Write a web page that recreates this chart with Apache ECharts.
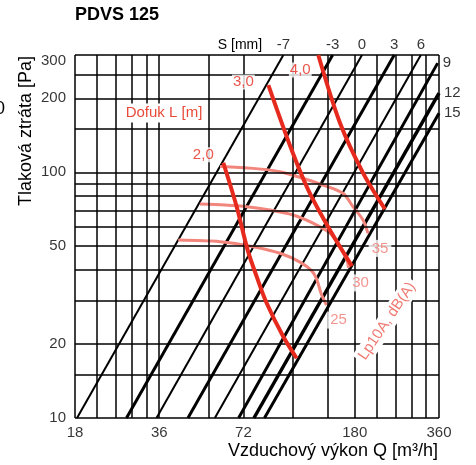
<!DOCTYPE html>
<html><head><meta charset="utf-8">
<script src="https://cdn.jsdelivr.net/npm/echarts@6/dist/echarts.min.js"></script>
<style>html,body{margin:0;padding:0;background:#fff}#c{width:476px;height:465px}</style>
</head><body><div id="c"></div>
<script>
// ---- data ----
const title = 'PDVS 125';
const xName = 'Vzduchový výkon Q [m³/h]';
const yName = 'Tlaková ztráta [Pa]';
const xTicks = [18, 36, 72, 180, 360];
const yTicks = [10, 20, 50, 100, 200, 300];
const xGrid = [18, 21.6, 25.2, 28.8, 32.4, 36, 54, 72, 108, 144, 180, 216, 252, 288, 324, 360];
const yGrid = [10, 15, 20, 30, 40, 50, 60, 70, 80, 90, 100, 150, 200, 250, 300];

// damper setting lines S [mm]: flow at 10 Pa, end point
const sLabels = ['-7', '-3', '0', '3', '6', '9', '12', '15'];
const sStartQ = [18.3, 27.5, 35.2, 45.6, 56.9, 69.2, 78.5, 85.6];
const sEndQ   = [100, 150, 191, 249, 310, 356, 360, 360];
const sEndP   = [300, 300, 300, 300, 300, 278, 210, 174];

// throw (Dofuk L [m]) curves
const throwLabels = ['2,0', '3,0', '4,0'];
const throw20 = [[61.0,109.3],[68.1,72.4],[74.5,48.3],[80.3,37.6],[87.2,29.3],[100,21.4],[111.6,17.5]];
const throw30 = [[88.4,226.3],[107.1,123.1],[122.8,84.6],[146.7,58.2],[175.9,41.5]];
const throw40 = [[133.3,300],[159.4,158.6],[193,99.0],[230.8,70.8]];

// noise Lp10A dB(A) curves
const noiseLabels = ['35', '30', '25'];
const noise35 = [[59.4,105.5],[77.9,103.7],[97.3,100.5],[117.5,94.5],[138.6,88.7],[163.4,82.1],[177.4,72.4],[192.6,63.9],[200.7,56.4]];
const noise30 = [[50.3,74.2],[61.9,73.5],[74.1,72.4],[89.6,70.2],[108.3,67.0],[127.6,62.1],[146.7,56.6],[159.4,49.8],[168.8,43.9],[170.9,40.8]];
const noise25 = [[42.1,53.0],[59.4,52.2],[78.1,49.8],[97.3,46.8],[114.7,43.1],[126.6,39.6],[131.9,36.4],[136.3,32.2],[142.6,28.8]];

// ---- chart ----
const FONT = 'Liberation Sans, Arial, sans-serif';
const RED = '#e62b1e', PINK = '#f2857c', PINKTXT = '#f07a72';
const chart = echarts.init(document.getElementById('c'));

const hidden = {axisLine:{show:false}, axisTick:{show:false}, axisLabel:{show:false}, splitLine:{show:false}};

const series = [];
// grid
series.push({
  type:'line', data:[[18,10]], symbol:'none', lineStyle:{opacity:0}, silent:true, z:1,
  markLine:{
    silent:true, symbol:['none','none'], animation:false,
    label:{show:false},
    lineStyle:{color:'#000', width:1.5, type:'solid'},
    data: xGrid.map(v=>({xAxis:v})).concat(yGrid.map(v=>({yAxis:v})))
  }
});
// S lines
const sWidths = [2, 3, 2, 3, 2, 3, 3.5, 3];
sLabels.forEach((l,i)=>{
  series.push({type:'line', name:'S'+l, data:[[sStartQ[i],10],[sEndQ[i],sEndP[i]]], symbol:'none', z:3,
    lineStyle:{color:'#000', width:sWidths[i]}, clip:false});
});
// noise curves
[noise35, noise30, noise25].forEach((d,i)=>{
  series.push({type:'line', data:d, symbol:'none', smooth:0.3, z:4, lineStyle:{color:PINK, width:3}});
});
// throw curves
[throw20, throw30, throw40].forEach((d,i)=>{
  series.push({type:'line', data:d, symbol:'none', smooth:0.3, z:5, lineStyle:{color:RED, width:4}});
});

const txt = {fontFamily:FONT, color:'#000', fontSize:15};
// axis tick labels
series.push({type:'scatter', symbolSize:0, clip:false, silent:true, z:6,
  data: yTicks.map(v=>({value:[18,v], label: v===300 ? {offset:[0,6]} : {}})),
  label:Object.assign({show:true, position:'left', distance:9, formatter:p=>String(p.value[1])}, txt)});
series.push({type:'scatter', symbolSize:0, clip:false, silent:true, z:6,
  data: xTicks.map(v=>[v,10]),
  label:Object.assign({show:true, position:'bottom', distance:7, formatter:p=>String(p.value[0])}, txt)});
// S labels
series.push({type:'scatter', symbolSize:0, clip:false, silent:true, z:6,
  data: sLabels.map((l,i)=>({value:[sEndQ[i], sEndP[i]],
    label: sEndP[i] >= 300 ? {position:'top', distance:3} : {position:'right', distance:5}})),
  label:Object.assign({show:true, formatter:p=>sLabels[p.dataIndex]}, txt)});
// throw labels
const throwOff = [[-20,-8],[-25,-3],[-18,15]];
series.push({type:'scatter', symbolSize:0, clip:false, silent:true, z:7,
  data: [throw20, throw30, throw40].map((d,i)=>({value:d[0], label:{offset:throwOff[i]}})),
  label:{show:true, position:'inside', formatter:p=>throwLabels[p.dataIndex], fontFamily:FONT, fontSize:15,
    color:RED, backgroundColor:'#fff', padding:[0,1]}});
// noise labels
series.push({type:'scatter', symbolSize:0, clip:false, silent:true, z:7,
  data: [noise35, noise30, noise25].map((d,i)=>({value:d[d.length-1], label:{offset:[12,15]}})),
  label:{show:true, position:'inside', formatter:p=>noiseLabels[p.dataIndex], fontFamily:FONT, fontSize:15,
    color:PINKTXT, backgroundColor:'#fff', padding:[1,3]}});

function gtext(text, x, y, opt){
  return Object.assign({type:'text', x:x, y:y, z:10, style:Object.assign({text:text, font:'15px '+FONT, fill:'#000',
    align:'center', verticalAlign:'middle', textAlign:'center', textVerticalAlign:'middle'}, opt.style||{})}, opt.el||{});
}

chart.setOption({
  animation:false,
  grid:{left:75, right:37, top:55, bottom:47},
  xAxis:Object.assign({type:'log', logBase:10, min:18, max:360}, hidden),
  yAxis:Object.assign({type:'log', logBase:10, min:10, max:300}, hidden),
  series: series,
  graphic:[
    gtext(title, 75, 15, {style:{font:'bold 18px '+FONT, align:'left', textAlign:'left'}}),
    gtext(yName, 26, 131, {style:{font:'18px '+FONT}, el:{rotation:Math.PI/2}}),
    gtext(xName, 438, 451, {style:{font:'18px '+FONT, align:'right', textAlign:'right'}}),
    gtext('S [mm]', 240, 45, {style:{font:'14px '+FONT}}),
    gtext('Dofuk L [m]', 164, 113, {style:{fill:'#e8493a', backgroundColor:'#fff', padding:[2,2]}}),
    gtext('Lp10A, dB(A)', 387, 321, {style:{fill:PINKTXT, backgroundColor:'#fff', padding:[2,3]}, el:{rotation:56*Math.PI/180}}),
    gtext('0', -5, 109, {style:{font:'18px '+FONT, align:'left', textAlign:'left'}})
  ]
});
</script></body></html>
